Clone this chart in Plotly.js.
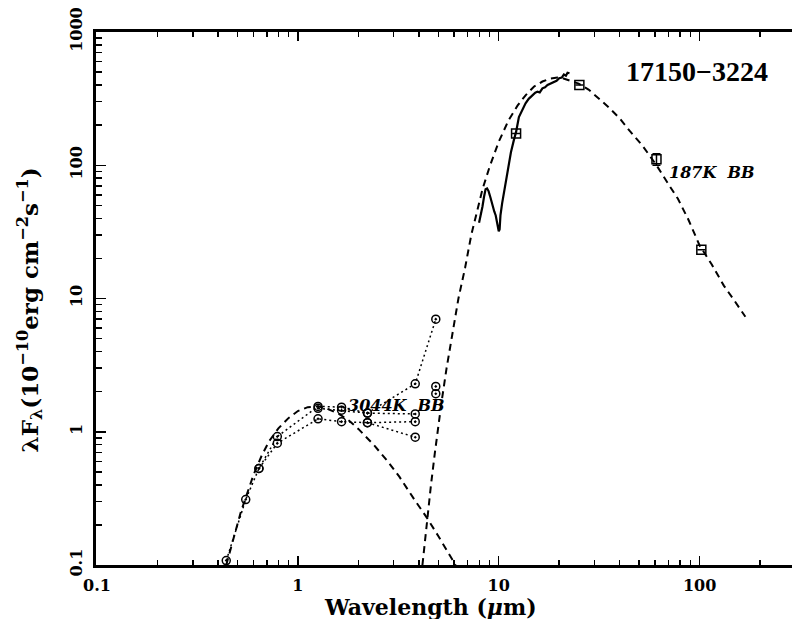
<!DOCTYPE html>
<html>
<head>
<meta charset="utf-8">
<script src="https://cdn.plot.ly/plotly-3.0.1.min.js"></script>
<style>html,body{margin:0;padding:0;background:#fff;}#chart{width:792px;height:619px;}</style>
</head>
<body>
<div id="chart"></div>
<script>
// ---- data ----
// 3044 K blackbody (dashed)
const bb3044X = [0.44, 0.48, 0.52, 0.55, 0.60, 0.66, 0.72, 0.80, 0.90, 1.0, 1.12, 1.26, 1.4, 1.6, 1.8, 2.0, 2.4, 2.8, 3.2, 3.8, 4.4, 5.0, 5.6, 6.1];
const bb3044Y = [0.10, 0.16, 0.25, 0.32, 0.47, 0.66, 0.85, 1.06, 1.27, 1.43, 1.53, 1.55, 1.49, 1.36, 1.21, 1.05, 0.79, 0.60, 0.46, 0.31, 0.225, 0.165, 0.124, 0.10];
// 187 K blackbody (dashed)
const bb187X = [4.17, 4.4, 4.6, 4.8, 5.0, 5.2, 5.5, 5.8, 6.3, 6.8, 7.3, 8.3, 9.0, 10, 11.2, 12.4, 13.6, 15, 16.5, 18, 19.6, 21, 23, 25, 28, 31, 35, 40, 45, 52, 61, 70, 78, 88, 100, 115, 132, 150, 169];
const bb187Y = [0.10, 0.22, 0.40, 0.68, 1.1, 1.7, 3.0, 4.9, 10, 17, 30, 66, 97, 150, 218, 280, 335, 390, 425, 447, 455, 448, 430, 410, 370, 325, 275, 225, 180, 140, 100, 72, 56, 39, 25, 18, 12.5, 9.5, 7.3];
// IRAS LRS spectrum (solid)
const lrsX = [7.98, 8.15, 8.3, 8.45, 8.6, 8.75, 8.9, 9.1, 9.3, 9.5, 9.66, 9.85, 10.0, 10.1, 10.2, 10.4, 10.6, 10.9, 11.2, 11.5, 11.9, 12.2, 12.6, 13.1, 13.6, 14.1, 14.7, 15.2, 15.6, 16.0, 16.5, 17.0, 17.5, 18.1, 18.8, 19.4, 20.0, 20.6, 21.1, 21.6, 22.0, 22.5];
const lrsY = [37, 42, 49, 58, 66, 67, 64, 57, 50, 45, 42, 36, 32, 33, 42, 52, 62, 80, 98, 125, 155, 178, 230, 262, 292, 315, 337, 350, 357, 352, 378, 385, 400, 408, 420, 430, 450, 455, 480, 470, 495, 490];
// IRAS photometry (squares)
const irasX = [12.2, 25.2, 61, 102];
const irasY = [173, 401, 111, 23.2];
const irasErr = [0, 0, 11, 0];
// optical / near-IR photometry (circles, dotted joins)
const phot1X = [0.44, 0.55, 0.64, 0.79, 1.26, 1.65, 2.22, 3.84, 4.86];
const phot1Y = [0.108, 0.31, 0.53, 0.92, 1.55, 1.53, 1.38, 2.29, 7.0];
const phot2X = [0.64, 0.79, 1.26, 1.65, 2.22, 3.84];
const phot2Y = [0.53, 0.82, 1.25, 1.19, 1.17, 1.19];
const phot3X = [1.26, 1.65, 2.22, 3.84];
const phot3Y = [1.50, 1.45, 1.38, 1.36];
const phot4X = [2.22, 3.84];
const phot4Y = [1.17, 0.91];
const phot5X = [4.86, 4.86];
const phot5Y = [2.19, 1.93];
// ticks
const xTickVals = [0.1, 1, 10, 100];
const xTickText = ['0.1', '1', '10', '100'];
const xMinorVals = [0.2,0.3,0.4,0.5,0.6,0.7,0.8,0.9,2,3,4,5,6,7,8,9,20,30,40,50,60,70,80,90,200];
const yTickVals = [0.1, 1, 10, 100, 1000];
const yTickText = ['0.1', '1', '10', '100', '1000'];
const yMinorVals = [0.2,0.3,0.4,0.5,0.6,0.7,0.8,0.9,2,3,4,5,6,7,8,9,20,30,40,50,60,70,80,90,200,300,400,500,600,700,800,900];

const serif = 'DejaVu Serif';
const dotLine = {color: '#000', width: 1.5, dash: '2px,3px'};
const circ = {symbol: 'circle-open-dot', size: 8, color: '#000', line: {width: 1.5, color: '#000'}};

const traces = [
  {x: bb3044X, y: bb3044Y, mode: 'lines', line: {color: '#000', width: 2, dash: '7px,5px'}},
  {x: bb187X, y: bb187Y, mode: 'lines', line: {color: '#000', width: 2, dash: '7px,5px'}},
  {x: lrsX, y: lrsY, mode: 'lines', line: {color: '#000', width: 2.2}},
  {x: phot1X, y: phot1Y, mode: 'lines+markers', line: dotLine, marker: circ},
  {x: phot2X, y: phot2Y, mode: 'lines+markers', line: dotLine, marker: circ},
  {x: phot3X, y: phot3Y, mode: 'lines+markers', line: dotLine, marker: circ},
  {x: phot4X, y: phot4Y, mode: 'lines+markers', line: dotLine, marker: circ},
  {x: phot5X, y: phot5Y, mode: 'markers', marker: circ},
  {x: irasX, y: irasY, mode: 'markers',
   marker: {symbol: 'square-open', size: 9, color: '#000', line: {width: 1.5, color: '#000'}},
   error_y: {type: 'data', array: irasErr, visible: true, color: '#000', thickness: 1.5, width: 4}}
];

const layout = {
  width: 792, height: 619,
  margin: {l: 96, r: 0, t: 32, b: 54},
  showlegend: false,
  paper_bgcolor: '#fff', plot_bgcolor: '#fff',
  font: {family: serif, color: '#000'},
  xaxis: {
    type: 'log', range: [-1.005, 2.46],
    tickvals: xTickVals, ticktext: xTickText,
    ticks: 'inside', ticklen: 9, tickwidth: 1.5, tickcolor: '#000',
    minor: {tickvals: xMinorVals, ticks: 'inside', ticklen: 5, tickwidth: 1.5, tickcolor: '#000', showgrid: false},
    showline: true, linewidth: 3, linecolor: '#000', mirror: 'ticks',
    showgrid: false, zeroline: false,
    tickfont: {family: serif, size: 16, weight: 'bold', color: '#000'},
    ticklabelstandoff: 4
  },
  yaxis: {
    type: 'log', range: [-1, 3],
    tickvals: yTickVals, ticktext: yTickText, tickangle: -90,
    ticks: 'inside', ticklen: 10, tickwidth: 1.5, tickcolor: '#000',
    minor: {tickvals: yMinorVals, ticks: 'inside', ticklen: 6, tickwidth: 1.5, tickcolor: '#000', showgrid: false},
    showline: true, linewidth: 3, linecolor: '#000', mirror: false,
    showgrid: false, zeroline: false,
    tickfont: {family: serif, size: 16, weight: 'bold', color: '#000'},
    ticklabelstandoff: 5
  },
  annotations: [
    {text: '<b>17150\u22123224</b>', xref: 'paper', yref: 'paper', x: 0.8635, y: 0.925,
     xanchor: 'center', yanchor: 'middle', showarrow: false,
     font: {family: 'Liberation Serif', size: 28, color: '#000'}},
    {text: '<b><i>187K  BB</i></b>', xref: 'paper', yref: 'paper', x: 0.82, y: 0.737,
     xanchor: 'left', yanchor: 'middle', showarrow: false,
     font: {family: serif, size: 16, color: '#000'}},
    {text: '<b><i>3044K  BB</i></b>', xref: 'paper', yref: 'paper', x: 0.359, y: 0.300,
     xanchor: 'left', yanchor: 'middle', showarrow: false,
     font: {family: serif, size: 16, color: '#000'}},
    {text: '<b>Wavelength (<i>\u03bc</i>m)</b>', xref: 'paper', yref: 'paper', x: 0.4805, y: -0.078,
     xanchor: 'center', yanchor: 'middle', showarrow: false,
     font: {family: serif, size: 22, color: '#000'}},
    {text: '<b>\u03bbF<sub>\u03bb</sub>(10<sup>\u221210</sup>erg cm<sup>\u22122</sup>s<sup>\u22121</sup>)</b>',
     xref: 'paper', yref: 'paper', x: -0.096, y: 0.478, textangle: -90,
     xanchor: 'center', yanchor: 'middle', showarrow: false,
     font: {family: serif, size: 23, color: '#000'}}
  ]
};

Plotly.newPlot('chart', traces, layout, {displayModeBar: false, staticPlot: true});
</script>
</body>
</html>
